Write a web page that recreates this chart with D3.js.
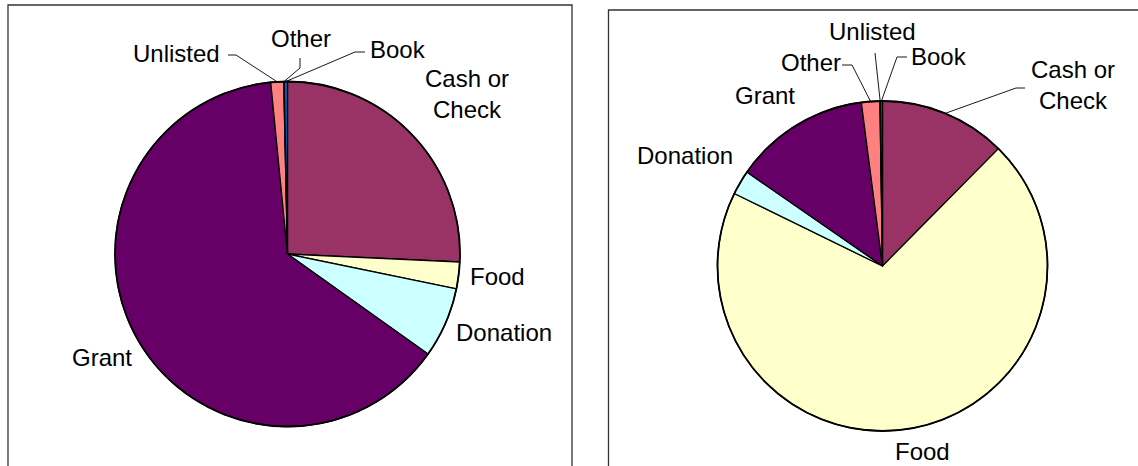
<!DOCTYPE html>
<html>
<head>
<meta charset="utf-8">
<script src="https://cdn.jsdelivr.net/npm/d3@7"></script>
<style>
  html, body { margin: 0; padding: 0; background: #fff; }
  svg { display: block; }
  text { font-family: "Liberation Sans", Arial, sans-serif; font-size: 24px; fill: #000; }
</style>
</head>
<body>
<svg id="chart" width="1138" height="466"></svg>
<script>
// ---- data ----
const leftCategories  = ["Cash or Check", "Food", "Donation", "Grant", "Unlisted", "Other", "Book"];
const leftValues      = [25.7, 2.5, 6.6, 63.5, 1.2, 0.05, 0.3];
const leftColors      = ["#993366", "#FFFFCC", "#CCFFFF", "#660066", "#FF8080", "#CCCCFF", "#0066CC"];

const rightCategories = ["Cash or Check", "Food", "Donation", "Grant", "Other", "Unlisted", "Book"];
const rightValues     = [12.4, 69.8, 2.4, 13.3, 1.8, 0.05, 0.2];
const rightColors     = ["#993366", "#FFFFCC", "#CCFFFF", "#660066", "#FF8080", "#CCCCFF", "#0066CC"];

// ---- layout (positions kept separate from data) ----
const panels = [
  { frame: { x: 8, y: 5, w: 564, right: true }, cx: 287.5, cy: 254, r: 172.5,
    cats: leftCategories, vals: leftValues, cols: leftColors,
    labels: {
      "Unlisted":      { x: 133, y: 62, leader: [[228, 55], [236, 55]] },
      "Other":         { x: 271, y: 47, leader: [[300, 58], [300, 68]] },
      "Book":          { x: 370, y: 58, leader: [[365, 52], [355, 52]] },
      "Cash or Check": { x: 467, y: 87, anchor: "middle", lines: ["Cash or", "Check"] },
      "Food":          { x: 470, y: 285 },
      "Donation":      { x: 456, y: 341 },
      "Grant":         { x: 72,  y: 366 }
    } },
  { frame: { x: 608.5, y: 10, w: 600, right: false }, cx: 882.5, cy: 266, r: 165,
    cats: rightCategories, vals: rightValues, cols: rightColors,
    labels: {
      "Unlisted":      { x: 829, y: 40, leader: [[875, 53]] },
      "Other":         { x: 781, y: 71, leader: [[842, 65], [852, 65]] },
      "Book":          { x: 911, y: 65, leader: [[907, 57], [897, 57]] },
      "Cash or Check": { x: 1073, y: 78, anchor: "middle", lines: ["Cash or", "Check"], leader: [[1025, 88], [1016, 88]] },
      "Grant":         { x: 735, y: 104 },
      "Donation":      { x: 637, y: 164 },
      "Food":          { x: 895, y: 460 }
    } }
];

const svg = d3.select("#chart");

panels.forEach(p => {
  // frame
  const f = p.frame;
  const fp = d3.path();
  fp.moveTo(f.x, 480); fp.lineTo(f.x, f.y); fp.lineTo(f.x + f.w, f.y);
  if (f.right) fp.lineTo(f.x + f.w, 480);
  svg.append("path").attr("d", fp.toString())
    .attr("fill", "none").attr("stroke", "#333").attr("stroke-width", 1.3);

  const data = p.cats.map((c, i) => ({ cat: c, val: p.vals[i], col: p.cols[i] }));
  const pie = d3.pie().value(d => d.val).sort(null);
  const arcs = pie(data);
  const arc = d3.arc().innerRadius(0).outerRadius(p.r);

  const g = svg.append("g").attr("transform", `translate(${p.cx},${p.cy})`);
  g.selectAll("path.slice").data(arcs).join("path")
    .attr("class", "slice")
    .attr("d", arc)
    .attr("fill", d => d.data.col)
    .attr("stroke", "#000")
    .attr("stroke-width", 1.3)
    .attr("stroke-linejoin", "round");
  g.append("circle").attr("r", p.r).attr("fill", "none")
    .attr("stroke", "#000").attr("stroke-width", 1.8);

  arcs.forEach(a => {
    const L = p.labels[a.data.cat];
    if (!L) return;
    if (L.leader) {
      const mid = (a.startAngle + a.endAngle) / 2;
      const px = p.cx + p.r * Math.sin(mid);
      const py = p.cy - p.r * Math.cos(mid);
      const pts = L.leader.concat([[px, py]]);
      svg.append("path").attr("d", d3.line()(pts))
        .attr("fill", "none").attr("stroke", "#000").attr("stroke-width", 0.9);
    }
    const t = svg.append("text")
      .attr("x", L.x).attr("y", L.y)
      .attr("text-anchor", L.anchor || "start");
    if (L.lines) {
      L.lines.forEach((ln, i) => {
        t.append("tspan").attr("x", L.x).attr("dy", i === 0 ? 0 : 31).text(ln);
      });
    } else {
      t.text(a.data.cat);
    }
  });
});
</script>
</body>
</html>
